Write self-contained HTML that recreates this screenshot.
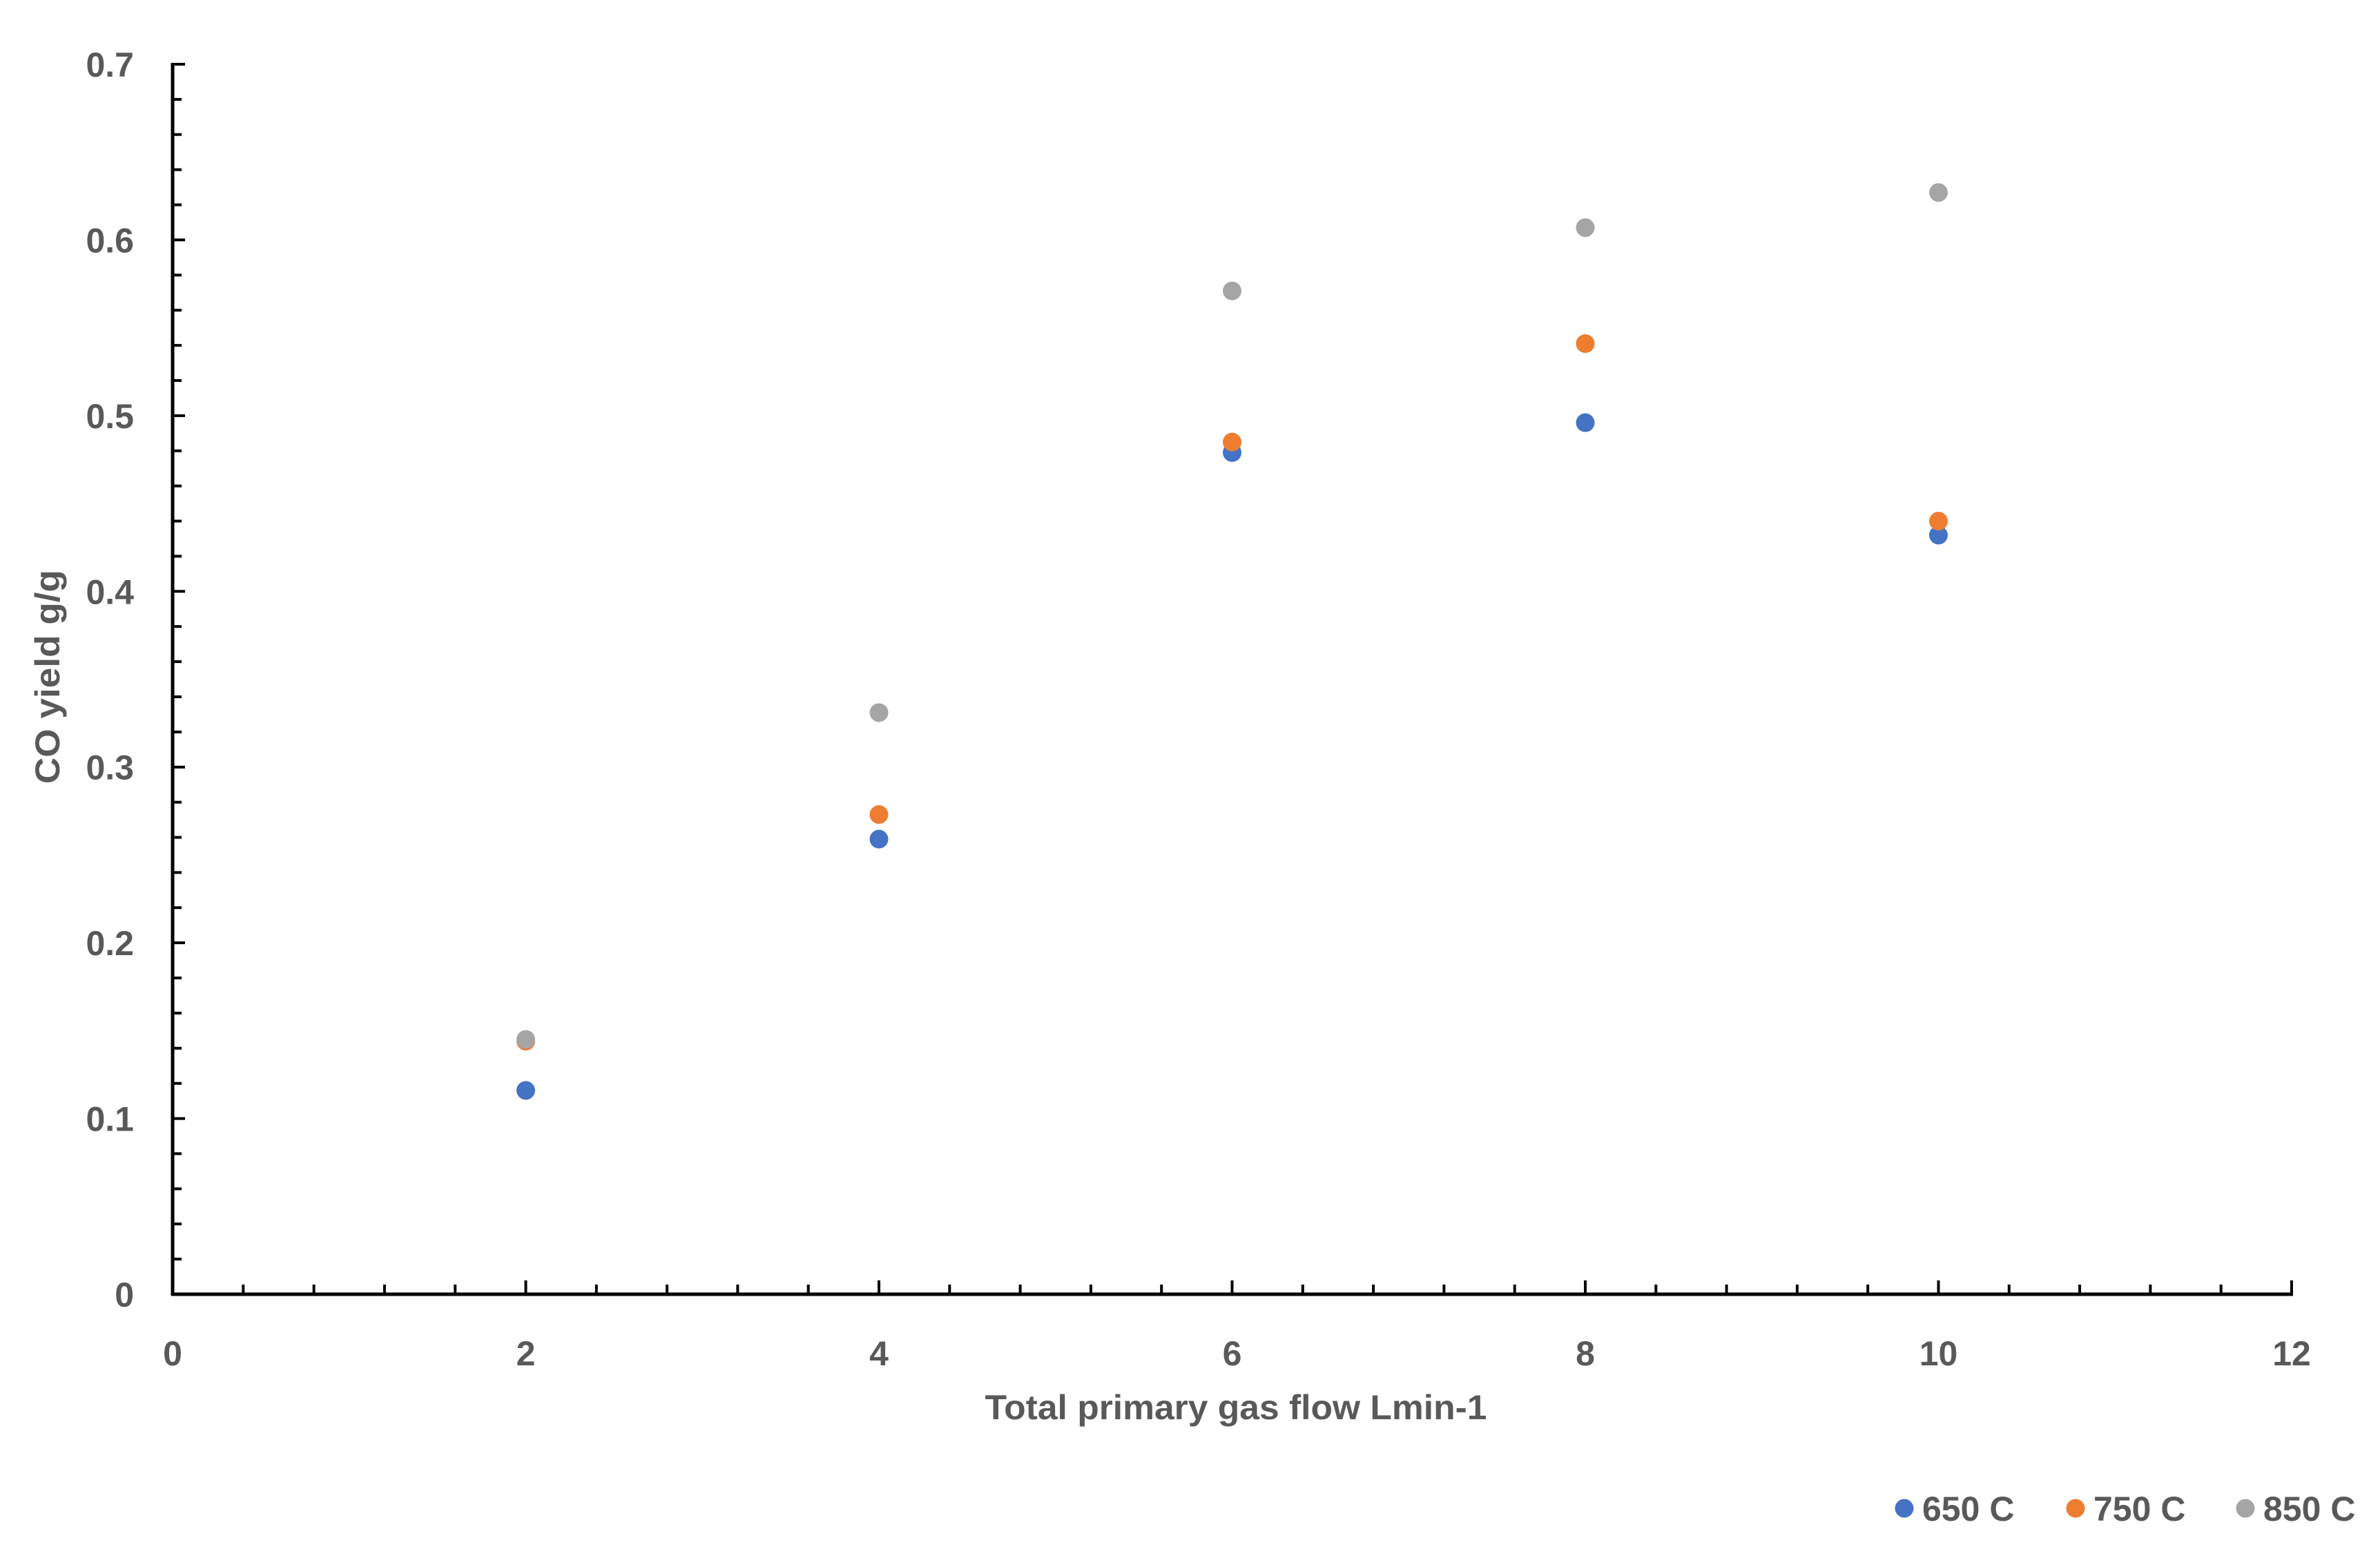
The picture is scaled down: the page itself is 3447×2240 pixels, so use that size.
<!DOCTYPE html>
<html><head><meta charset="utf-8"><style>
html,body{margin:0;padding:0;background:#fff;}
svg{display:block;font-family:"Liberation Sans",sans-serif;}
</style></head><body>
<svg id="chart" width="3447" height="2240" viewBox="0 0 3447 2240" xmlns="http://www.w3.org/2000/svg">
<rect width="3447" height="2240" fill="#fff"/>
<g id="axes"></g>
<g id="marks"></g>
<text x="1790" y="2055" text-anchor="middle" font-size="50" font-weight="bold" fill="#595959" textLength="727" lengthAdjust="spacingAndGlyphs">Total primary gas flow Lmin-1</text>
<text transform="translate(86,980) rotate(-90)" text-anchor="middle" font-size="50" font-weight="bold" fill="#595959" textLength="310" lengthAdjust="spacingAndGlyphs">CO yield g/g</text>
<g id="legend"></g>
</svg>
<script>
const xValues = [2, 4, 6, 8, 10];
const seriesNames = ["650 C", "750 C", "850 C"];
const series650 = [0.116, 0.259, 0.479, 0.496, 0.432];
const series750 = [0.144, 0.273, 0.485, 0.541, 0.440];
const series850 = [0.145, 0.331, 0.571, 0.607, 0.627];
const xTickLabels = ["0", "2", "4", "6", "8", "10", "12"];
const yTickLabels = ["0", "0.1", "0.2", "0.3", "0.4", "0.5", "0.6", "0.7"];

const colors = ["#4472C4", "#ED7D31", "#A5A5A5"];
const allSeries = [series650, series750, series850];
const X0 = 250, X1 = 3319, Y0 = 1874, Y1 = 93;
const xMax = 12, yMax = 0.7;
function sx(v){ return X0 + v / xMax * (X1 - X0); }
function sy(v){ return Y0 - v / yMax * (Y0 - Y1); }
const NS = "http://www.w3.org/2000/svg";
function mk(tag, attrs, parent){
  const e = document.createElementNS(NS, tag);
  for (const k in attrs) e.setAttribute(k, attrs[k]);
  parent.appendChild(e);
  return e;
}
const axes = document.getElementById("axes");
let e;
e = mk("line", {x1: X0, y1: Y1 - 2, x2: X0, y2: Y0 + 2, stroke: "#000", "stroke-width": 5}, axes);


e = mk("line", {x1: X0 - 2, y1: Y0, x2: X1 + 2, y2: Y0, stroke: "#000", "stroke-width": 5}, axes);


for (let i = 0; i <= 35; i++) {
  const v = i * 0.02, y = sy(v), major = i % 5 === 0;
  e = mk("line", {x1: X0, y1: y, x2: X0 + (major ? 18 : 13), y2: y, stroke: "#000", "stroke-width": 4}, axes);
  
  
}
for (let i = 0; i <= 30; i++) {
  const v = i * 0.4, x = sx(v), major = i % 5 === 0;
  e = mk("line", {x1: x, y1: Y0, x2: x, y2: Y0 - (major ? 20 : 14), stroke: "#000", "stroke-width": 4}, axes);
  
  
}
yTickLabels.forEach((t, i) => {
  const el = mk("text", {x: 194, y: sy(i * 0.1) + 18, "text-anchor": "end", "font-size": 50, "font-weight": "bold", fill: "#595959"}, axes);
  el.textContent = t;
  
  
});
xTickLabels.forEach((t, i) => {
  const el = mk("text", {x: sx(i * 2), y: 1977, "text-anchor": "middle", "font-size": 50, "font-weight": "bold", fill: "#595959"}, axes);
  el.textContent = t;
  
  
});
const marks = document.getElementById("marks");
allSeries.forEach((s, si) => {
  s.forEach((v, i) => {
    const c = mk("circle", {cx: sx(xValues[i]), cy: sy(v), r: 13.5, fill: colors[si]}, marks);
    
    
  });
});
const legend = document.getElementById("legend");
const legX = [2758, 3006, 3252];
seriesNames.forEach((n, i) => {
  const c = mk("circle", {cx: legX[i], cy: 2184, r: 13.5, fill: colors[i]}, legend);
  
  
  const t = mk("text", {x: legX[i] + 26, y: 2202, "font-size": 50, "font-weight": "bold", fill: "#595959"}, legend);
  t.textContent = n;
  
  
});
</script>
</body></html>
